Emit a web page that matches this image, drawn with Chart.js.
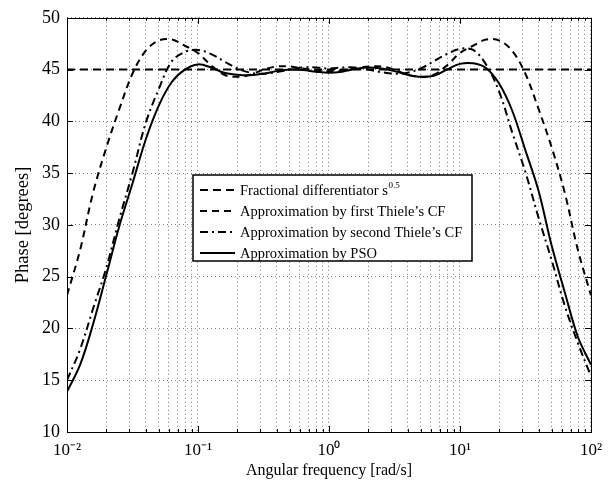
<!DOCTYPE html>
<html><head><meta charset="utf-8">
<script src="https://cdn.jsdelivr.net/npm/chart.js@4"></script>
<style>html,body{margin:0;padding:0;background:#fff}#wrap{width:610px;height:486px;position:relative}</style>
</head><body><div id="wrap"><canvas id="c"></canvas></div>
<script>
// Angular frequency samples [rad/s]
const omega = [0.01,0.0126,0.0158,0.02,0.0251,0.0316,0.0398,0.0501,0.0631,0.0794,
  0.1,0.126,0.158,0.2,0.251,0.316,0.398,0.501,0.631,0.794,
  1,1.26,1.58,2,2.51,3.16,3.98,5.01,6.31,7.94,
  10,12.6,15.8,20,25.1,31.6,39.8,50.1,63.1,79.4,100];
// Ideal fractional differentiator s^0.5 (constant phase)
const fracOmega = [0.01, 100];
const fracPhase = [45, 45];
// Approximation by first Thiele's CF
const thiele1Phase = [23.2,27.6,33.1,37.5,41.2,44.6,46.8,47.8,47.9,47.3,
  46.6,45.4,44.5,44.3,44.5,45.0,45.3,45.3,45.1,44.9,
  44.85,44.9,45.1,45.3,45.3,45.0,44.5,44.3,44.5,45.4,
  46.6,47.3,47.9,47.8,46.8,44.6,41.2,37.5,33.1,27.6,23.2];
// Approximation by second Thiele's CF
const thiele2Phase = [15.0,18.0,21.9,25.9,30.6,35.0,39.8,43.1,45.8,46.7,
  46.9,46.5,45.8,45.1,44.7,44.6,44.75,45.0,45.2,45.2,
  45.1,45.2,45.2,45.0,44.75,44.6,44.7,45.1,45.8,46.5,
  47.0,46.9,45.5,42.8,38.9,35.1,30.7,26.6,22.2,18.6,15.4];
// Approximation by PSO
const psoPhase = [13.9,16.5,20.4,25.2,29.9,34.0,38.2,41.5,43.8,45.0,
  45.5,45.2,44.7,44.5,44.45,44.6,44.85,45.0,44.95,44.8,
  44.7,44.8,45.05,45.2,45.1,44.85,44.5,44.3,44.4,45.0,
  45.55,45.6,45.15,43.6,41.0,37.2,33.3,28.0,23.5,19.2,16.5];
// Tick labels
const xDecades = [0.01, 0.1, 1, 10, 100];
const xTickLabels = ['10\u207B\u00B2', '10\u207B\u00B9', '10\u2070', '10\u00B9', '10\u00B2'];
const yTicks = [10,15,20,25,30,35,40,45,50];
const legendLabels = ['Fractional differentiator s', "Approximation by first Thiele\u2019s CF", "Approximation by second Thiele\u2019s CF", 'Approximation by PSO'];

const pts = (xs, ys) => xs.map((v, i) => ({x: v, y: ys[i]}));
const SERIF = "'Liberation Serif','Times New Roman',serif";

const frameLegend = {
  id: 'frameLegend',
  afterDraw(chart) {
    const {ctx, chartArea: a, scales: {x, y}} = chart;
    ctx.save();
    // inner tick marks
    ctx.strokeStyle = '#000'; ctx.lineWidth = 1; ctx.setLineDash([]);
    x.ticks.forEach(t => {
      const px = Math.round(x.getPixelForValue(t.value)) + 0.5;
      const major = xDecades.includes(t.value);
      const len = major ? 6 : 3;
      ctx.beginPath();
      ctx.moveTo(px, a.bottom); ctx.lineTo(px, a.bottom - len);
      ctx.moveTo(px, a.top); ctx.lineTo(px, a.top + len);
      ctx.stroke();
    });
    y.ticks.forEach(t => {
      const py = Math.round(y.getPixelForValue(t.value)) + 0.5;
      ctx.beginPath();
      ctx.moveTo(a.left, py); ctx.lineTo(a.left + 6, py);
      ctx.moveTo(a.right, py); ctx.lineTo(a.right - 6, py);
      ctx.stroke();
    });
    ctx.strokeRect(Math.round(a.left) + 0.5, Math.round(a.top) + 0.5, Math.round(a.right - a.left), Math.round(a.bottom - a.top));
    // legend box
    const bx = 193, by = 175, bw = 279, bh = 86;
    ctx.fillStyle = '#fff';
    ctx.fillRect(bx, by, bw, bh);
    ctx.lineWidth = 1.5;
    ctx.strokeRect(bx, by, bw, bh);
    const rows = [190, 211, 232, 253];
    chart.data.datasets.forEach((ds, i) => {
      const yy = rows[i];
      ctx.strokeStyle = ds.borderColor; ctx.lineWidth = ds.borderWidth;
      ctx.setLineDash(ds.borderDash || []);
      ctx.beginPath(); ctx.moveTo(200, yy); ctx.lineTo(235, yy); ctx.stroke();
      ctx.setLineDash([]);
      ctx.fillStyle = '#000';
      ctx.font = '14.5px ' + SERIF;
      ctx.textBaseline = 'middle'; ctx.textAlign = 'left';
      ctx.fillText(legendLabels[i], 240, yy + 1);
      if (i === 0) {
        const w = ctx.measureText(legendLabels[i]).width;
        ctx.font = '9px ' + SERIF;
        ctx.fillText('0.5', 240 + w + 0.5, yy - 4);
      }
    });
    ctx.restore();
  }
};

new Chart(document.getElementById('c'), {
  type: 'line',
  data: {
    datasets: [
      {label: 'Fractional differentiator s^0.5', data: pts(fracOmega, fracPhase), borderColor: '#000', borderWidth: 2, borderDash: [8, 5], tension: 0},
      {label: "Approximation by first Thiele's CF", data: pts(omega, thiele1Phase), borderColor: '#000', borderWidth: 2, borderDash: [7, 5], tension: 0.35},
      {label: "Approximation by second Thiele's CF", data: pts(omega, thiele2Phase), borderColor: '#000', borderWidth: 2, borderDash: [8, 4, 2, 4], tension: 0.35},
      {label: 'Approximation by PSO', data: pts(omega, psoPhase), borderColor: '#000', borderWidth: 2, tension: 0.35}
    ]
  },
  options: {
    responsive: true, maintainAspectRatio: false, animation: false,
    devicePixelRatio: 1,
    layout: {padding: {top: 15, right: 14, left: 0, bottom: 0}},
    elements: {point: {radius: 0, hoverRadius: 0}, line: {fill: false, borderCapStyle: 'butt'}},
    plugins: {legend: {display: false}, tooltip: {enabled: false}},
    scales: {
      x: {
        type: 'logarithmic', min: 0.01, max: 100,
        afterBuildTicks(scale) {
          const t = [];
          for (let d = 0; d < xDecades.length - 1; d++)
            for (let k = 1; k <= 9; k++) t.push({value: +(xDecades[d] * k).toPrecision(3)});
          t.push({value: xDecades[xDecades.length - 1]});
          scale.ticks = t;
        },
        afterFit(scale) { scale.height = 54; },
        ticks: {
          autoSkip: false, maxRotation: 0, minRotation: 0, padding: 8, color: '#000',
          font: {family: SERIF, size: 17},
          callback(v) { const i = xDecades.indexOf(v); return i >= 0 ? xTickLabels[i] : ''; }
        },
        grid: {color: '#444', lineWidth: 0.7, drawTicks: false},
        border: {display: false, dash: [1, 3]},
        title: {display: true, text: 'Angular frequency [rad/s]', color: '#000', font: {family: SERIF, size: 16}, padding: {top: 0, bottom: 6}}
      },
      y: {
        type: 'linear', min: 10, max: 50,
        afterBuildTicks(scale) { scale.ticks = yTicks.map(v => ({value: v})); },
        afterFit(scale) { scale.width = 67; },
        ticks: {padding: 7, color: '#000', font: {family: SERIF, size: 18}},
        grid: {color: '#444', lineWidth: 0.7, drawTicks: false},
        border: {display: false, dash: [1, 3]},
        title: {display: true, text: 'Phase [degrees]', color: '#000', font: {family: SERIF, size: 18.5}, padding: {top: 12, bottom: 0}}
      }
    }
  },
  plugins: [frameLegend]
});
</script>
</body></html>
